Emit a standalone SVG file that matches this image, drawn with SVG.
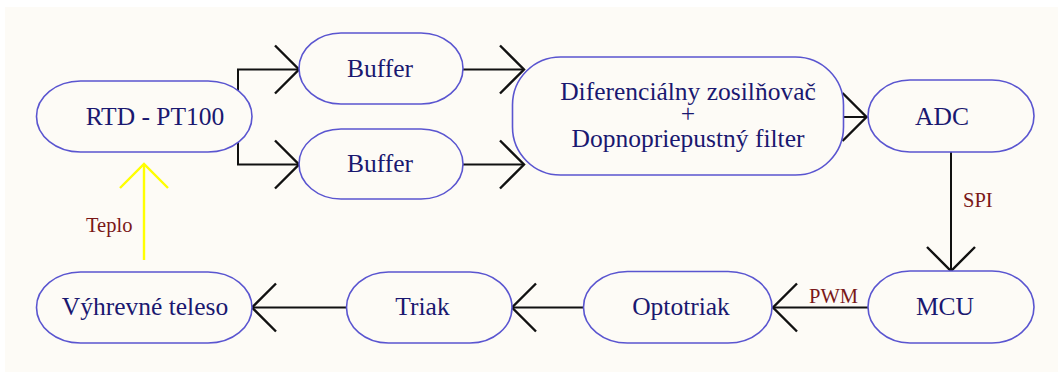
<svg xmlns="http://www.w3.org/2000/svg" width="1058" height="372" viewBox="0 0 1058 372">
<defs>
<style>
.node{fill:#fdfbf6;stroke:#5a55d0;stroke-width:1.6}
.t{font-family:"Liberation Serif","Times New Roman",serif;font-size:25.5px;fill:#1a1870;text-anchor:middle}
.lbl{font-family:"Liberation Serif","Times New Roman",serif;font-size:20.5px;fill:#7a1818}
.c{fill:none;stroke:#111;stroke-width:2}
</style>
<marker id="ah" markerUnits="userSpaceOnUse" viewBox="-30 -30 60 60" markerWidth="60" markerHeight="60" refX="0" refY="0" orient="auto" overflow="visible">
<path d="M-24,-24 L0,0 L-24,24" fill="none" stroke="#111" stroke-width="2.4"/>
</marker>
<marker id="ahy" markerUnits="userSpaceOnUse" viewBox="-30 -30 60 60" markerWidth="60" markerHeight="60" refX="0" refY="0" orient="auto" overflow="visible">
<path d="M-24,-24 L0,0 L-24,24" fill="none" stroke="#ffff00" stroke-width="2.4"/>
</marker>
</defs>
<rect x="0" y="0" width="1058" height="372" fill="#ffffff"/>
<rect x="5" y="7" width="1053" height="365" fill="#fdfbf6"/>
<g id="connectors">
<path class="c" d="M238,117 V69.5 H299" marker-end="url(#ah)"/>
<path class="c" d="M238,117 V164.5 H299" marker-end="url(#ah)"/>
<path class="c" d="M463,69.5 H524" marker-end="url(#ah)"/>
<path class="c" d="M463,164.5 H524" marker-end="url(#ah)"/>
<path class="c" d="M843,117 H866.5" marker-end="url(#ah)"/>
<path class="c" d="M951,152 V271" marker-end="url(#ah)"/>
<path class="c" d="M868,307.5 H773" marker-end="url(#ah)"/>
<path class="c" d="M583.5,307.5 H512" marker-end="url(#ah)"/>
<path class="c" d="M346.5,307.5 H252" marker-end="url(#ah)"/>
<path d="M144,260 V164" fill="none" stroke="#ffff00" stroke-width="2.4" marker-end="url(#ahy)"/>
<text class="lbl" x="963" y="207">SPI</text>
<text class="lbl" x="809" y="303">PWM</text>
<text class="lbl" x="86" y="232">Teplo</text>
</g>
<g id="rtd"><rect class="node" x="36.5" y="81" width="215.5" height="71" rx="44" ry="35.5"/><text class="t" x="155" y="124.5">RTD - PT100</text></g>
<g id="buffer1"><rect class="node" x="299" y="33" width="164" height="71" rx="42" ry="35.5"/><text class="t" x="380" y="77">Buffer</text></g>
<g id="buffer2"><rect class="node" x="299" y="129" width="164" height="70" rx="42" ry="35"/><text class="t" x="380" y="172">Buffer</text></g>
<g id="diff"><rect class="node" x="512.5" y="57" width="331" height="118" rx="48" ry="48"/>
<text class="t" x="688" y="100">Diferenciálny zosilňovač</text>
<text class="t" x="688" y="122">+</text>
<text class="t" x="688" y="147">Dopnopriepustný filter</text></g>
<g id="adc"><rect class="node" x="868" y="80" width="166" height="72" rx="42" ry="36"/><text class="t" x="942" y="124.5">ADC</text></g>
<g id="mcu"><rect class="node" x="868" y="271" width="166" height="72" rx="42" ry="36"/><text class="t" x="945" y="315">MCU</text></g>
<g id="optotriak"><rect class="node" x="583.5" y="271.5" width="188.5" height="71.5" rx="44" ry="35.75"/><text class="t" x="681" y="315">Optotriak</text></g>
<g id="triak"><rect class="node" x="346.5" y="272" width="165.5" height="71" rx="42" ry="35.5"/><text class="t" x="422.5" y="315">Triak</text></g>
<g id="vyhrevne"><rect class="node" x="36.5" y="272" width="215.5" height="71" rx="44" ry="35.5"/><text class="t" x="145" y="315">Výhrevné teleso</text></g>
</svg>
